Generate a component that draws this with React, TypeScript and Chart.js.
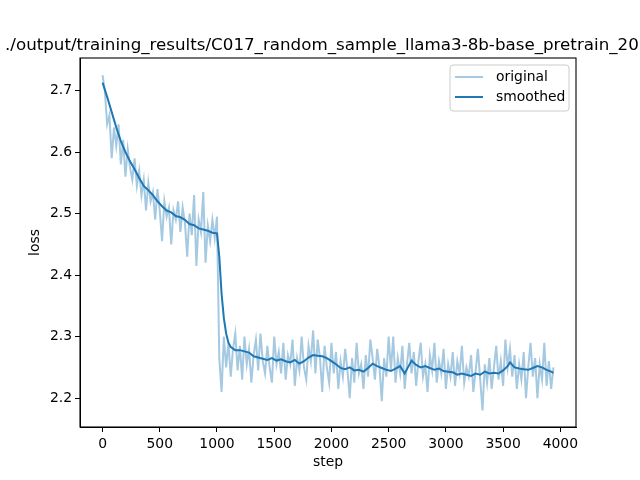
import React, { useEffect, useRef } from "react";
import { Chart, registerables } from "chart.js";

Chart.register(...registerables);

const TITLE = "./output/training_results/C017_random_sample_llama3-8b-base_pretrain_20";
const X_LABEL = "step";
const Y_LABEL = "loss";
const LEGEND_LABELS = ["original", "smoothed"];

const ORIGINAL_STEPS: number[] = [];
for (let s = 0; s <= 3940; s += 20) ORIGINAL_STEPS.push(s);

const ORIGINAL_LOSS = [
  2.725, 2.700, 2.645, 2.660, 2.590, 2.640, 2.610, 2.645, 2.580, 2.620,
  2.560, 2.605, 2.575, 2.555, 2.590, 2.545, 2.570, 2.530, 2.555, 2.505,
  2.550, 2.520, 2.535, 2.490, 2.540, 2.505, 2.455, 2.520, 2.495, 2.510,
  2.450, 2.505, 2.490, 2.520, 2.470, 2.510, 2.485, 2.430, 2.500, 2.465,
  2.530, 2.415, 2.490, 2.470, 2.535, 2.420, 2.480, 2.455, 2.490, 2.460,
  2.495,
  2.265, 2.210, 2.300, 2.250, 2.290, 2.235, 2.280, 2.305, 2.245, 2.285,
  2.230, 2.300, 2.255, 2.280, 2.225, 2.270, 2.295, 2.245, 2.305, 2.260,
  2.240, 2.285, 2.250, 2.225, 2.300, 2.255, 2.275, 2.240, 2.290, 2.230,
  2.270, 2.255, 2.295, 2.220, 2.265, 2.245, 2.300, 2.250, 2.230, 2.285,
  2.260, 2.310, 2.240, 2.295, 2.265, 2.210, 2.285, 2.250, 2.225, 2.290,
  2.240, 2.275, 2.215, 2.260, 2.235, 2.280, 2.245, 2.200, 2.265, 2.225,
  2.290, 2.240, 2.255, 2.215, 2.270, 2.235, 2.295, 2.265, 2.230, 2.280,
  2.250, 2.195, 2.265, 2.235, 2.300, 2.245, 2.300, 2.225, 2.265, 2.240,
  2.285, 2.215, 2.255, 2.290, 2.240, 2.275, 2.220, 2.260, 2.290, 2.235,
  2.255, 2.210, 2.270, 2.245, 2.290, 2.225, 2.260, 2.240, 2.280, 2.215,
  2.255, 2.235, 2.275, 2.220, 2.260, 2.240, 2.285, 2.225, 2.250, 2.235,
  2.270, 2.210, 2.245, 2.280, 2.230, 2.180, 2.255, 2.225, 2.265, 2.215,
  2.250, 2.285, 2.230, 2.260, 2.220, 2.295, 2.250, 2.280, 2.235, 2.270,
  2.215, 2.255, 2.230, 2.275, 2.200, 2.250, 2.290, 2.235, 2.265, 2.200,
  2.255, 2.230, 2.290, 2.220, 2.260, 2.215, 2.250,
];

const SMOOTHED_STEPS = [
  0, 40, 80, 120, 160, 200, 240, 280, 320, 360, 400, 440, 480, 520, 560, 600,
  640, 680, 720, 760, 800, 840, 880, 920, 960, 1000, 1020, 1040, 1060, 1080,
  1100, 1120, 1160, 1200, 1240, 1280, 1320, 1360, 1400, 1440, 1480, 1520,
  1560, 1600, 1640, 1680, 1720, 1760, 1800, 1840, 1880, 1920, 1960, 2000,
  2040, 2080, 2120, 2160, 2200, 2240, 2280, 2320, 2360, 2400, 2440, 2480,
  2520, 2560, 2600, 2640, 2680, 2700, 2740, 2780, 2820, 2860, 2900, 2940,
  2980, 3020, 3060, 3100, 3140, 3180, 3220, 3260, 3300, 3340, 3380, 3420,
  3460, 3500, 3540, 3560, 3600, 3640, 3680, 3720, 3760, 3800, 3840, 3880,
  3920, 3940,
];

const SMOOTHED_LOSS = [
  2.713, 2.690, 2.665, 2.640, 2.618, 2.600, 2.585, 2.572, 2.558, 2.545, 2.538,
  2.530, 2.520, 2.512, 2.505, 2.502, 2.496, 2.494, 2.490, 2.483, 2.481, 2.476,
  2.474, 2.472, 2.469, 2.468, 2.430, 2.370, 2.330, 2.305, 2.290, 2.283, 2.278,
  2.278, 2.276, 2.274, 2.268, 2.266, 2.264, 2.262, 2.265, 2.261, 2.263, 2.260,
  2.258, 2.262, 2.256, 2.260, 2.266, 2.270, 2.269, 2.268, 2.265, 2.260, 2.255,
  2.249, 2.247, 2.250, 2.245, 2.246, 2.243, 2.249, 2.256, 2.252, 2.249, 2.246,
  2.244, 2.248, 2.252, 2.240, 2.254, 2.261, 2.254, 2.250, 2.252, 2.249, 2.246,
  2.248, 2.244, 2.243, 2.242, 2.238, 2.240, 2.238, 2.236, 2.240, 2.238, 2.243,
  2.240, 2.241, 2.240, 2.245, 2.252, 2.258, 2.250, 2.248, 2.247, 2.246, 2.249,
  2.252, 2.250, 2.246, 2.243, 2.241,
];

const X_TICKS = [0, 500, 1000, 1500, 2000, 2500, 3000, 3500, 4000];
const Y_TICKS = [2.2, 2.3, 2.4, 2.5, 2.6, 2.7];

const C0 = "#1f77b4";
const C0_LIGHT = "rgba(31,119,180,0.4)";
const FONT = "'DejaVu Sans', sans-serif";

const decorPlugin = {
  id: "decor",
  afterDatasetsDraw(chart: any) {
    const { ctx, chartArea } = chart;
    const { left, right, top, bottom } = chartArea;
    ctx.save();
    // frame
    ctx.strokeStyle = "#000";
    ctx.lineWidth = 1.1;
    ctx.strokeRect(left, top, right - left, bottom - top);

    // title
    ctx.fillStyle = "#000";
    ctx.font = `16.7px ${FONT}`;
    ctx.textAlign = "left";
    ctx.textBaseline = "alphabetic";
    ctx.fillText(TITLE, 5, top - 8.5);

    // axis labels
    ctx.font = `13.9px ${FONT}`;
    ctx.textAlign = "center";
    ctx.textBaseline = "middle";
    ctx.fillText(X_LABEL, (left + right) / 2, 462);
    ctx.save();
    ctx.translate(35, (top + bottom) / 2);
    ctx.rotate(-Math.PI / 2);
    ctx.fillText(Y_LABEL, 0, 0);
    ctx.restore();

    // legend
    const bx = 450, by = 65, bw = 119, bh = 46, r = 3;
    ctx.beginPath();
    ctx.moveTo(bx + r, by);
    ctx.lineTo(bx + bw - r, by);
    ctx.quadraticCurveTo(bx + bw, by, bx + bw, by + r);
    ctx.lineTo(bx + bw, by + bh - r);
    ctx.quadraticCurveTo(bx + bw, by + bh, bx + bw - r, by + bh);
    ctx.lineTo(bx + r, by + bh);
    ctx.quadraticCurveTo(bx, by + bh, bx, by + bh - r);
    ctx.lineTo(bx, by + r);
    ctx.quadraticCurveTo(bx, by, bx + r, by);
    ctx.closePath();
    ctx.fillStyle = "rgba(255,255,255,0.8)";
    ctx.fill();
    ctx.strokeStyle = "#cccccc";
    ctx.lineWidth = 1;
    ctx.stroke();

    const colors = [C0_LIGHT, C0];
    const rows = [77, 97];
    ctx.textAlign = "left";
    ctx.textBaseline = "middle";
    for (let i = 0; i < LEGEND_LABELS.length; i++) {
      ctx.strokeStyle = colors[i];
      ctx.lineWidth = 2;
      ctx.beginPath();
      ctx.moveTo(455, rows[i]);
      ctx.lineTo(483, rows[i]);
      ctx.stroke();
      ctx.fillStyle = "#000";
      ctx.fillText(LEGEND_LABELS[i], 496, rows[i]);
    }
    ctx.restore();
  },
};

export default function App() {
  const ref = useRef<HTMLCanvasElement | null>(null);

  useEffect(() => {
    if (!ref.current) return;
    const original = ORIGINAL_STEPS.map((s, i) => ({ x: s, y: ORIGINAL_LOSS[i] }));
    const smoothed = SMOOTHED_STEPS.map((s, i) => ({ x: s, y: SMOOTHED_LOSS[i] }));
    const chart = new Chart(ref.current, {
      type: "line",
      data: {
        datasets: [
          {
            label: LEGEND_LABELS[0],
            data: original,
            borderColor: C0_LIGHT,
            borderWidth: 2,
            pointRadius: 0,
            tension: 0,
          },
          {
            label: LEGEND_LABELS[1],
            data: smoothed,
            borderColor: C0,
            borderWidth: 2,
            pointRadius: 0,
            tension: 0,
          },
        ],
      },
      options: {
        responsive: false,
        animation: false,
        events: [],
        layout: { padding: { top: 58, right: 64, left: 0, bottom: 0 } },
        plugins: {
          legend: { display: false },
          title: { display: false },
          tooltip: { enabled: false },
        },
        scales: {
          x: {
            type: "linear",
            min: -197,
            max: 4137,
            afterFit: (s: any) => {
              s.height = 53;
            },
            afterBuildTicks: (s: any) => {
              s.ticks = X_TICKS.map((v) => ({ value: v }));
            },
            grid: {
              drawOnChartArea: false,
              drawTicks: true,
              tickLength: 5,
              tickWidth: 1,
              tickColor: "#000",
            },
            border: { display: true, color: "#000", width: 1 },
            ticks: {
              color: "#000",
              padding: 4,
              maxRotation: 0,
              autoSkip: false,
              font: { family: FONT, size: 13.9 },
              callback: (v: any) => String(v),
            },
          },
          y: {
            type: "linear",
            min: 2.153,
            max: 2.753,
            afterFit: (s: any) => {
              s.width = 80;
            },
            afterBuildTicks: (s: any) => {
              s.ticks = Y_TICKS.map((v) => ({ value: v }));
            },
            grid: {
              drawOnChartArea: false,
              drawTicks: true,
              tickLength: 5,
              tickWidth: 1,
              tickColor: "#000",
            },
            border: { display: true, color: "#000", width: 1 },
            ticks: {
              color: "#000",
              padding: 3,
              autoSkip: false,
              font: { family: FONT, size: 13.9 },
              callback: (v: any) => Number(v).toFixed(1),
            },
          },
        },
      },
      plugins: [decorPlugin],
    });
    return () => chart.destroy();
  }, []);

  return (
    <div style={{ position: "fixed", left: 0, top: 0, width: 640, height: 480, background: "#fff" }}>
      <canvas ref={ref} width={640} height={480} style={{ width: 640, height: 480 }} />
    </div>
  );
}
